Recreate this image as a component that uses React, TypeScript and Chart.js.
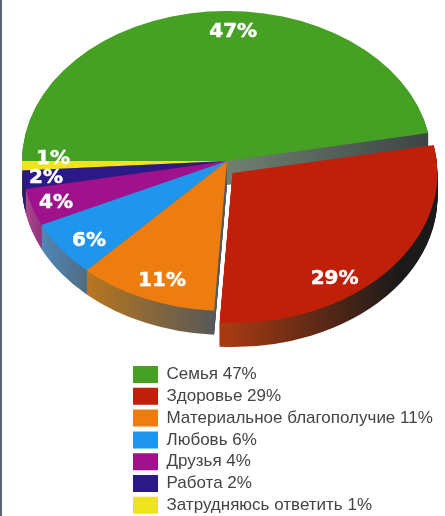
import React, { useEffect, useRef } from "react";
import { Chart, registerables } from "chart.js";

Chart.register(...registerables);

const categories = ["Семья", "Здоровье", "Материальное благополучие", "Любовь", "Друзья", "Работа", "Затрудняюсь ответить"];
const shares = [47, 29, 11, 6, 4, 2, 1];
const topColors = ["#45a023", "#c0200a", "#ee7d10", "#1f95ee", "#a0128c", "#2b1a86", "#efe31e"];
const wallFrom = ["#6f8070", "#a83a12", "#b9761e", "#4f88b8", "#b04a92", "#2b1a66", "#a09a20"];
const wallTo = ["#3c4444", "#1a1a1a", "#55585a", "#4f6a80", "#8a3078", "#2b1a66", "#a09a20"];

const PIE_X = 227;
const PIE_Y = 161;
const RADIUS = 205;
const SQUASH = 0.732;
const DEPTH = 24;
const EXPLODE_INDEX = 1;
const EXPLODE_DX = 5.5;
const EXPLODE_DY = 12;
const WALL_SPAN: [number, number][] = [[227, 432], [220, 395], [87, 217], [40, 90], [22, 45], [22, 30], [22, 30]];
const LABEL_SPOTS: [number, number][] = [[0.03, -0.873], [0.498, 0.693], [-0.317, 0.787], [-0.673, 0.52], [-0.834, 0.267], [-0.883, 0.1], [-0.849, -0.027]];
const LABEL_DROP = 2;

const LEGEND_LEFT = 133;
const LEGEND_TOP = 366;

const piePlugin = {
  id: "tiltedPie",
  afterLayout(chart: any) {
    const lg = chart.legend;
    if (!lg) return;
    const pad = chart.options.plugins.legend.labels.padding;
    lg.left = LEGEND_LEFT - pad;
    lg.right = chart.width;
    lg.top = LEGEND_TOP - pad;
    lg.bottom = lg.top + chart.height;
  },
  beforeDatasetDraw(chart: any, args: any) {
    const { ctx } = chart;
    const arcs = args.meta.data;
    const place = (i: number, lift: number) => {
      const el = arcs[i];
      const dx = i === EXPLODE_INDEX ? EXPLODE_DX : 0;
      const dy = i === EXPLODE_INDEX ? EXPLODE_DY : 0;
      ctx.translate(PIE_X + dx, PIE_Y + dy + lift);
      ctx.scale(1, SQUASH);
      ctx.translate(-el.x, -el.y);
    };
    const drawWall = (i: number) => {
      const el = arcs[i];
      const saved = el.options;
      const dx0 = el.x - PIE_X;
      const g = ctx.createLinearGradient(WALL_SPAN[i][0] + dx0, 0, WALL_SPAN[i][1] + dx0, 0);
      g.addColorStop(0, wallFrom[i]);
      g.addColorStop(1, wallTo[i]);
      el.options = { ...saved, backgroundColor: g, borderWidth: 0 };
      for (let d = DEPTH; d >= 1; d--) {
        ctx.save();
        place(i, d);
        el.draw(ctx);
        ctx.restore();
      }
      el.options = saved;
    };
    const drawTop = (i: number) => {
      ctx.save();
      place(i, 0);
      arcs[i].draw(ctx);
      ctx.restore();
    };
    const order = [0, 6, 5, 4, 3, 2];
    order.forEach((i) => drawWall(i));
    order.forEach((i) => drawTop(i));
    // the pulled-out slice stands in front of everything behind it
    drawWall(EXPLODE_INDEX);
    drawTop(EXPLODE_INDEX);

    ctx.save();
    ctx.font = 'bold 20px "DejaVu Sans"';
    ctx.fillStyle = "#ffffff";
    ctx.strokeStyle = "#ffffff";
    ctx.lineWidth = 0.5;
    ctx.textAlign = "center";
    ctx.textBaseline = "middle";
    arcs.forEach((el: any, i: number) => {
      const dx = i === EXPLODE_INDEX ? EXPLODE_DX : 0;
      const dy = i === EXPLODE_INDEX ? EXPLODE_DY : 0;
      const x = PIE_X + dx + LABEL_SPOTS[i][0] * el.outerRadius;
      const y = PIE_Y + dy + LABEL_SPOTS[i][1] * el.outerRadius * SQUASH + LABEL_DROP;
      ctx.fillText(`${shares[i]}%`, x, y);
      ctx.strokeText(`${shares[i]}%`, x, y);
    });
    ctx.restore();
    return false;
  },
};

export default function App() {
  const ref = useRef<HTMLCanvasElement>(null);
  useEffect(() => {
    const chart = new Chart(ref.current as HTMLCanvasElement, {
      type: "doughnut",
      data: {
        labels: categories.map((c, i) => `${c} ${shares[i]}%`),
        datasets: [{ data: shares, backgroundColor: topColors, borderWidth: 0 }],
      },
      options: {
        responsive: false,
        animation: false,
        devicePixelRatio: 1,
        cutout: 0,
        radius: RADIUS,
        rotation: -90,
        layout: { padding: 0 },
        plugins: {
          tooltip: { enabled: false },
          legend: {
            position: "left",
            align: "start",
            labels: {
              boxWidth: 25,
              boxHeight: 17,
              padding: 4.8,
              color: "#444444",
              font: { family: '"Liberation Sans"', size: 17 },
            },
          },
        },
      },
      plugins: [piePlugin],
    } as any);
    return () => chart.destroy();
  }, []);
  return (
    <>
      <canvas
        ref={ref}
        width={445}
        height={516}
        style={{ position: "absolute", left: 0, top: 0, width: 445, height: 516, display: "block" }}
      />
      <div style={{ position: "absolute", left: 0, top: 0, width: 2, height: 516, background: "#5f6472" }} />
    </>
  );
}
